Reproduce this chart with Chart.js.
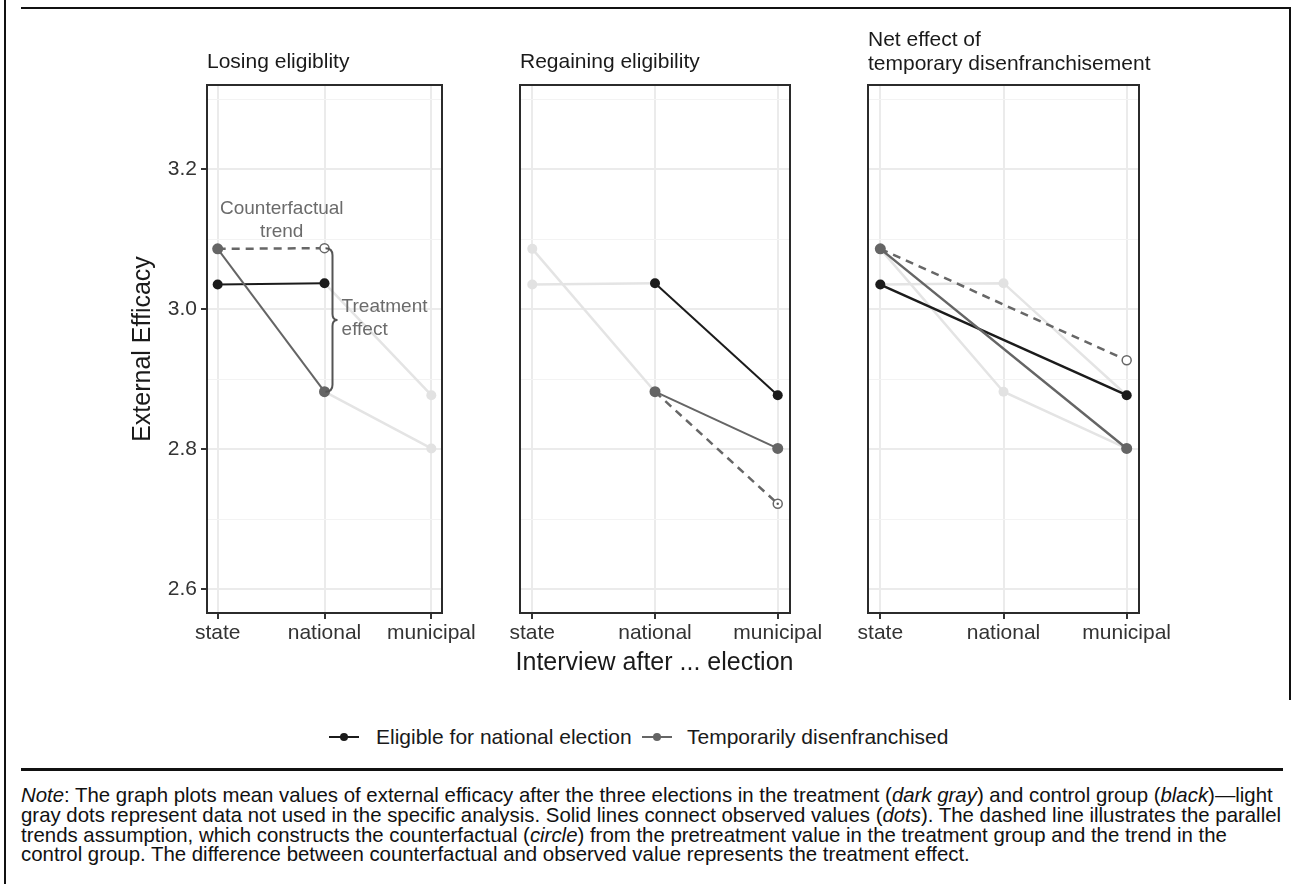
<!DOCTYPE html>
<html>
<head>
<meta charset="utf-8">
<script src="https://cdn.jsdelivr.net/npm/chart.js@4.4.1/dist/chart.umd.min.js"></script>
<style>
  body { margin: 0; background: #fff; width: 1296px; height: 884px; position: relative; overflow: hidden;
         font-family: "Liberation Sans", Arial, sans-serif; color: #1a1a1a; }
  canvas { position: absolute; left: 0; top: 0; }
  .abs { position: absolute; white-space: nowrap; }
  .title { font-size: 21px; line-height: 24px; color: #1a1a1a; }
  .rule { position: absolute; background: #111; }
  .note { font-size: 20.4px; line-height: 19.8px; left: 21px; top: 786px; color: #111; }
</style>
</head>
<body>
<div class="rule" style="left:4px;top:0;width:2px;height:884px"></div>
<div class="rule" style="left:21px;top:7px;width:1270px;height:2px"></div>
<div class="rule" style="left:1289px;top:7px;width:2px;height:693px"></div>
<div class="rule" style="left:21px;top:768px;width:1262px;height:3px"></div>

<canvas id="p1" width="1296" height="700"></canvas>
<canvas id="p2" width="1296" height="700"></canvas>
<canvas id="p3" width="1296" height="700"></canvas>

<div class="abs title" style="left:207px;top:49px">Losing eligiblity</div>
<div class="abs title" style="left:520px;top:49px">Regaining eligibility</div>
<div class="abs title" style="left:868px;top:27px">Net effect of<br>temporary disenfranchisement</div>

<div class="abs" style="left:0;width:1309px;top:646px;text-align:center;font-size:25px;line-height:30px">Interview after ... election</div>

<div class="abs" style="left:329px;top:736px;width:30px;height:2px;background:#1b1b1b"></div>
<div class="abs" style="left:340px;top:733px;width:8px;height:8px;border-radius:50%;background:#1b1b1b"></div>
<div class="abs" style="left:376px;top:724px;font-size:21px;line-height:26px">Eligible for national election</div>
<div class="abs" style="left:642px;top:736px;width:30px;height:2px;background:#656565"></div>
<div class="abs" style="left:653px;top:733px;width:8px;height:8px;border-radius:50%;background:#656565"></div>
<div class="abs" style="left:687px;top:724px;font-size:21px;line-height:26px">Temporarily disenfranchised</div>

<div class="abs note">
<i>Note</i>: The graph plots mean values of external efficacy after the three elections in the treatment (<i>dark gray</i>) and control group (<i>black</i>)—light<br>
gray dots represent data not used in the specific analysis. Solid lines connect observed values (<i>dots</i>). The dashed line illustrates the parallel<br>
trends assumption, which constructs the counterfactual (<i>circle</i>) from the pretreatment value in the treatment group and the trend in the<br>
control group. The difference between counterfactual and observed value represents the treatment effect.
</div>

<script>
// mean external efficacy per election
const elections = ["state", "national", "municipal"];
const eligible = [3.035, 3.037, 2.877];
const disenfranchised = [3.086, 2.882, 2.801];
// counterfactual value (circle), one per panel
const counterfactual = [3.087, 2.722, 2.927];
const yMajor = [2.6, 2.8, 3.0, 3.2];
const yMinor = [2.7, 2.9, 3.1, 3.3];

Chart.defaults.font.family = '"Liberation Sans", Arial, sans-serif';

const panels = [
  { id: "p1", box: [207, 442], solid: [0, 1], light: [1, 2], cf: [0, 1], lw: 2, yAxis: true },
  { id: "p2", box: [520, 790], solid: [1, 2], light: [0, 1], cf: [1, 2], lw: 2, yAxis: false, cfDot: true },
  { id: "p3", box: [868, 1139], solid: [0, 2], light: [0, 1, 2], cf: [0, 2], lw: 2.5, yAxis: false }
];

function pts(series, idx) {
  return idx.map(i => ({ x: i, y: series[i] }));
}
function isMajor(v) {
  return yMajor.some(m => Math.abs(m - v) < 1e-6);
}

const panelBox = {
  id: "panelBox",
  afterDraw(chart) {
    const { ctx, chartArea: a } = chart;
    ctx.save();
    ctx.strokeStyle = "#2b2b2b";
    ctx.lineWidth = 2;
    ctx.strokeRect(a.left, a.top, a.right - a.left, a.bottom - a.top);
    ctx.restore();
  }
};

// brace + labels in the first panel
const annotations = {
  id: "annotations",
  afterDatasetsDraw(chart) {
    if (chart.canvas.id !== "p1") return;
    const { ctx, scales: { x, y } } = chart;
    const xb = x.getPixelForValue(1) + 8;
    const yt = y.getPixelForValue(counterfactual[0]);
    const yb = y.getPixelForValue(disenfranchised[1]);
    const ym = (yt + yb) / 2;
    ctx.save();
    ctx.strokeStyle = "#555";
    ctx.lineWidth = 2;
    ctx.beginPath();
    ctx.moveTo(xb - 7, yt);
    ctx.quadraticCurveTo(xb, yt, xb, yt + 7);
    ctx.lineTo(xb, ym - 6);
    ctx.quadraticCurveTo(xb, ym, xb + 5, ym);
    ctx.quadraticCurveTo(xb, ym, xb, ym + 6);
    ctx.lineTo(xb, yb - 7);
    ctx.quadraticCurveTo(xb, yb, xb - 7, yb);
    ctx.stroke();

    ctx.fillStyle = "#6b6b6b";
    ctx.font = '19px "Liberation Sans", Arial, sans-serif';
    ctx.textBaseline = "middle";
    ctx.textAlign = "center";
    ctx.fillText("Counterfactual", x.getPixelForValue(0.6), y.getPixelForValue(3.143));
    ctx.fillText("trend", x.getPixelForValue(0.6), y.getPixelForValue(3.110));
    ctx.textAlign = "left";
    ctx.fillText("Treatment", x.getPixelForValue(1.16), y.getPixelForValue(3.003));
    ctx.fillText("effect", x.getPixelForValue(1.16), y.getPixelForValue(2.970));
    ctx.restore();
  }
};

panels.forEach((p, k) => {
  const yw = p.yAxis ? 83 : 0;
  const light = { borderColor: "#e4e4e4", backgroundColor: "#e2e2e2", borderWidth: 2.5, pointRadius: 5, pointBorderWidth: 0, order: 3 };
  const datasets = [
    Object.assign({ data: pts(eligible, p.light) }, light),
    Object.assign({ data: pts(disenfranchised, p.light) }, light),
    {
      data: [{ x: p.cf[0], y: disenfranchised[p.cf[0]] }, { x: p.cf[1], y: counterfactual[k] }],
      borderColor: "#676767", borderWidth: 2.5, borderDash: [8, 6],
      pointRadius: [0, 4.5], pointBackgroundColor: "#fff", pointBorderColor: "#676767", pointBorderWidth: 1.5,
      order: 2
    },
    {
      data: pts(disenfranchised, p.solid),
      borderColor: "#656565", backgroundColor: "#656565", borderWidth: p.lw,
      pointRadius: 5.5, pointBorderWidth: 0, order: 1
    },
    {
      data: pts(eligible, p.solid),
      borderColor: "#1b1b1b", backgroundColor: "#1b1b1b", borderWidth: p.lw,
      pointRadius: 5, pointBorderWidth: 0, order: 1
    }
  ];
  if (p.cfDot) {
    datasets.push({
      data: [{ x: p.cf[1], y: counterfactual[k] }], showLine: false,
      pointRadius: 1.2, backgroundColor: "#555", pointBorderWidth: 0, order: 0
    });
  }
  new Chart(document.getElementById(p.id), {
    type: "line",
    data: { datasets: datasets },
    options: {
      responsive: false,
      animation: false,
      events: [],
      layout: { padding: { left: p.box[0] - yw, right: 1296 - p.box[1], top: 85, bottom: 700 - 613 - 40 } },
      plugins: { legend: { display: false }, tooltip: { enabled: false } },
      elements: { line: { tension: 0 } },
      scales: {
        x: {
          type: "linear", min: -0.1, max: 2.1,
          afterBuildTicks: s => { s.ticks = elections.map((_, i) => ({ value: i })); },
          afterFit: s => { s.height = 40; },
          border: { display: false },
          grid: { color: "#ebebeb", lineWidth: 2, tickLength: 6, tickColor: "#333", tickWidth: 2 },
          ticks: { callback: v => elections[v], font: { size: 21 }, color: "#333", padding: 2, maxRotation: 0, autoSkip: false }
        },
        y: {
          type: "linear", min: 2.566, max: 3.32,
          afterBuildTicks: s => { s.ticks = yMajor.concat(yMinor).sort((a, b) => a - b).map(v => ({ value: v })); },
          afterFit: s => { s.width = yw; },
          border: { display: false },
          grid: {
            color: c => (c.tick && isMajor(c.tick.value)) ? "#ebebeb" : "#f3f3f3",
            lineWidth: c => (c.tick && isMajor(c.tick.value)) ? 2 : 1,
            drawTicks: p.yAxis, tickLength: 6, tickWidth: 2,
            tickColor: c => (c.tick && isMajor(c.tick.value)) ? "#333" : "rgba(0,0,0,0)"
          },
          ticks: {
            display: p.yAxis, font: { size: 21 }, color: "#333", padding: 4,
            callback: v => isMajor(v) ? v.toFixed(1) : ""
          },
          title: { display: p.yAxis, text: "External Efficacy", font: { size: 25 }, color: "#1a1a1a", padding: { top: 4, bottom: 4 } }
        }
      }
    },
    plugins: [panelBox, annotations]
  });
});
</script>
</body>
</html>
